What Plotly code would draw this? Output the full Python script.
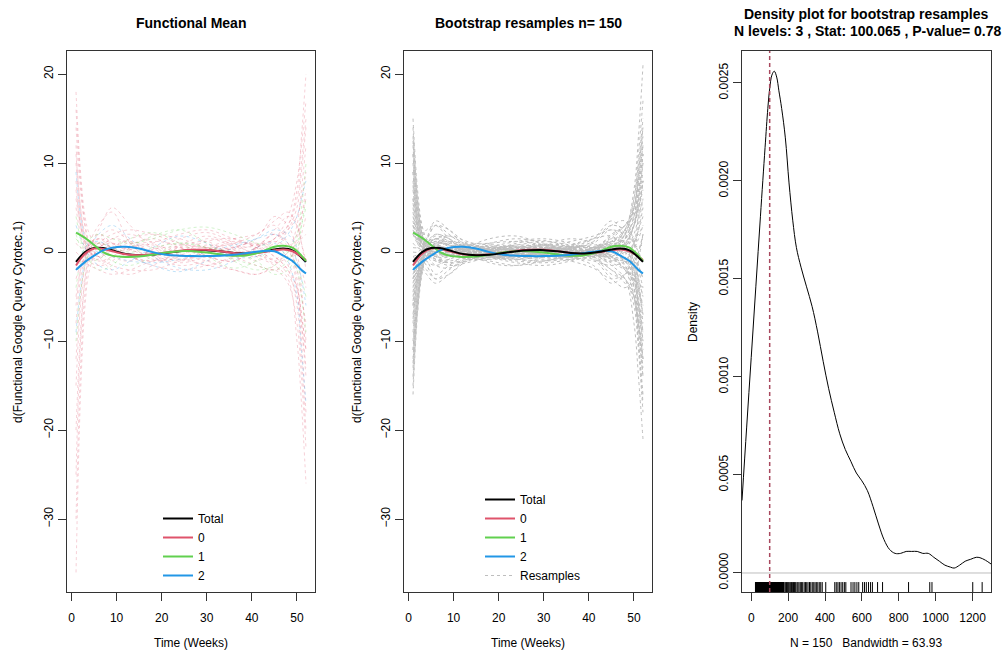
import plotly.graph_objects as go

# ---------------- data ----------------
# knot weeks used for the (sparse) functional curves
KNOT_WEEKS = [1, 2, 3, 4, 6, 9, 13, 18, 24, 30, 36, 41, 45, 48, 50, 51, 52]

# observed curves (panel 1), with their group
OBS_GROUPS = ["0", "0", "0", "0", "0", "0", "0", "0", "1", "2", "0", "0",
              "1", "2", "0", "0", "0", "0", "0", "0", "1", "2", "0", "0",
              "0", "0", "1", "0", "2", "0", "0", "1"]
OBS_CURVES = [
    [18, 9, 4, 2, 0.5, 0.8, 1.2, 0.5, -0.3, 0.8, 0.2, -0.5, 1.5, 3, 6, 10, 15],
    [-36, -16, -6, -2, 0.5, 1, 0.3, -0.5, 0.6, 1.2, -0.4, 0.5, 2, 0.5, -4, -10, -18],
    [-25, -10, -3, 0, 2, 1, -0.5, -1, 0.5, 0.3, 1, 0.8, -0.5, -2, -6, -12, -20],
    [-15, -6, -1.5, 1, 3, 4.5, 1, -0.8, -0.5, 1.5, 0.5, -1, 0.5, 2.5, 5, 9, 14],
    [12, 5, 1.5, 0, -1, -0.5, 0.8, 1.5, 0.5, -0.5, -1, 0.5, 2, 1, -3, -8, -14],
    [8, 3, 0.5, -1, -1.5, -0.5, 0.5, 0.8, -0.2, -1.5, -0.6, 0.3, 1, 3, 7, 13, 20],
    [-8, -3, -0.5, 1, 1.5, 0.5, -0.6, 0.2, 1.5, 2.2, 1, -0.5, -1.5, -3, -10, -17, -26],
    [5, 2, 0.5, 0, 0.5, 1.5, 2, 1, -0.5, 0.5, 1.5, 2, 3, 1, -1, -2, -4],
    [-4, -1, 0.5, 1, 0.2, -1, -1.5, -0.5, 1, 0.5, -0.8, -1.5, -2, -1, 1, 3, 5],
    [3, 1.5, 0.5, -0.5, -1.5, -2, -1, 0.5, 1.8, 1, -0.5, -0.5, 0.5, 2, 4, 6, 8],
    [14, 7, 3, 1, -0.5, 0.2, 1, -0.3, -1.2, -0.5, 0.5, 1.5, 4, 3, 0, -4, -10],
    [-20, -9, -3, -0.5, 1.5, 2.5, 1.2, 0, -1, 0, 1.2, 0.5, -1, 0, 3, 7, 12],
    [2, 0.5, -0.5, -1, -0.8, 0.3, 1.5, 2.2, 1, -0.5, -1.8, -1, 0.5, -0.5, -2, -5, -9],
    [-2, -0.5, 0.5, 1, 1.2, 0.5, -0.5, -1.5, -2.2, -1, 0.5, 1.5, 2.5, 2, 0.5, -0.5, -1.5],
    [10, 4, 1, -0.5, -0.8, 0.5, 0.2, -0.2, 0.8, 1.8, 0.8, -0.3, -1, -2.5, -5, -8, -13],
    [-12, -5, -1, 0.8, 1, -0.5, -1, 0.3, 0.5, -0.5, -1, 0.5, 1.5, 4, 8, 12, 17],
    [6, 3, 1.2, 0.8, 2.5, 5, 3, 0.5, -0.8, -0.2, 0.6, 1, 0.5, -1.5, -4, -7, -11],
    [-6, -2, 0, 0.5, -0.5, -2, -2.5, -1.5, 0, 1.2, 1.5, 0.5, -0.8, 0.5, 2, 4, 6],
    [1, 0.5, 0.5, 0.8, 1.5, 1, 0.3, 1, 2, 2.5, 1.5, 0.8, 2.5, 4, 3, 1, -2],
    [-30, -13, -4.5, -1, 1, 0.5, -0.5, -1, -0.8, -1.5, -2, -2.5, -2, -3.5, -8, -14, -22],
    [4, 1.5, 0, -1, -2, -1.5, 0.5, 1.8, 2.5, 1, -1, -2, -1.5, 0, 2, 5, 10],
    [-9, -4, -1, 0.5, 2, 3, 1.5, -0.5, -1.8, -2, -1, 0.5, 1, -1, -5, -11, -17],
    [16, 8, 3, 0.5, -1.5, -1, 0.5, 1.2, 0.8, 0.5, 0.3, 0.8, 1.2, 0.5, -2, -5, -8],
    [0, -0.5, -1, -0.8, 0.3, 1.5, 1, -0.5, -1.5, -1, 0, -0.2, -1.2, -0.5, 1.5, 4, 7],
    [7, 3, 1, 0, -0.5, 0.5, 1.5, 2, 1.5, 0.5, -0.5, -1.5, -2, -1.5, 0, 2, 4],
    [-5, -2, -0.5, 0.5, 1, 0.5, -0.5, -1.5, -2, -1.5, -0.5, 0.5, 1.5, 2.5, 4, 6, 9],
    [1.5, 1, 1, 1.5, 2, 1.5, 1, 1.5, 2.5, 2.8, 2, 1, 0.5, 0, -1.5, -3, -5],
    [-1, -1, -1.2, -1.5, -2, -2.5, -2, -1, -0.5, -1, -2, -2.5, -1.5, 0, 1, 1.5, 2],
    [9, 4, 1.5, 0.5, 0, -0.5, -1, -1.2, -0.8, 0, 0.8, 1.5, 2, 1, -1, -3, -6],
    [-3, -1.5, -0.5, 0, 1, 2, 2.5, 2, 1, 0.5, 1, 2, 3.5, 4.5, 3, 1, -1],
    [11, 5, 2, 0.5, -0.5, -1.5, -2, -2, -1, 0, 0.5, 0.5, -0.5, -2, -4, -7, -11],
    [-10, -4.5, -1.5, 0, 1, 0.5, 0, 0.5, 1, 0.5, 0, -1, -2.5, -2, 0, 3, 6],
]

# bootstrap resample curves (panel 2)
RESAMPLE_CURVES = [
    [15, 7, 3, 1.5, 0.5, 0, 0.5, 0.2, -0.3, 0.5, 0.2, -0.5, 0.5, 2, 6, 11, 17],
    [-16, -7, -2.5, -0.5, 1, 0.8, -0.3, -0.5, 0.3, 0.5, -0.2, 0.3, 1.5, 1, -4, -10, -17],
    [10, 4, 1.5, 0.5, -0.5, -0.5, 0.3, 0.6, 0.1, -0.3, -0.5, 0.2, 1, 2.5, 7, 13, 21],
    [-12, -5, -1.5, 0.5, 1.5, 1, 0, -0.3, 0, 0.3, 0, -0.3, -1.5, -3, -8, -14, -21],
    [8, 3.5, 1, 0, -1, -0.8, 0, 0.8, 0.5, 0, -0.6, 0, 1.2, 0.5, -1.5, -4, -7],
    [-8, -3, -0.5, 0.8, 1.8, 1.2, 0, -0.6, -0.2, 0.4, 0.6, 0.3, -0.5, 1.5, 4, 7, 11],
    [5, 2, 0.5, 0, 0.5, 1, 0.5, -0.2, -0.5, 0, 0.5, 1, 2.5, 1, -2, -5, -9],
    [-5, -2, 0, 1, 1, 0, -0.8, -0.6, 0.2, 0.6, 0.2, -0.6, -1, 0.5, 3, 5, 8],
    [12, 5, 2, 0.8, -0.3, -0.2, 0.4, 0.3, -0.4, -0.6, -0.2, 0.4, 0.8, -0.5, -3, -7, -12],
    [-14, -6, -2, 0, 1.2, 0.6, -0.2, 0.2, 0.6, 0.2, -0.4, -0.2, 0.6, 2.5, 6, 10, 15],
    [3, 1.5, 0.5, 0.2, 0, -0.5, -0.3, 0.3, 0.8, 0.5, -0.2, -0.5, -0.5, 0, 1, 2.5, 4],
    [-3, -1, 0.3, 0.6, 0.5, 0.2, 0, -0.3, -0.5, 0, 0.5, 0.6, 0.2, -1, -2.5, -4, -6],
    [6, 3, 1.5, 1.5, 3, 2, 0.5, -0.5, -0.8, -0.2, 0.3, 0.5, 0.2, -0.8, -1, 0, 2],
    [-6, -2.5, -1, -1, -2.5, -1.5, -0.2, 0.5, 0.6, 0.3, -0.2, 0, -0.2, 1, 3, 6, 10],
    [9, 4, 1.5, 0.3, -0.8, -0.5, 0.2, 0.4, 0.2, 0.2, 0.5, 1.2, 3, 3.5, 1, -3, -8],
    [-10, -4, -1, 0.5, 1.5, 0.8, 0, -0.2, -0.3, -0.2, 0, -0.8, -3, -4, -3, -1, 2],
    [2, 1, 0.6, 0.3, 0, 0, 0.4, 1, 1.5, 1, 0, -0.3, 0, 0.8, 1.5, 2, 3],
    [-2, -0.8, 0, 0.3, 0.2, -0.3, -0.6, -1, -1.5, -1, -0.5, 0, 0.5, 0.2, -0.5, -1.5, -3],
    [7, 3, 1, 0.3, 0, 0.5, 0.8, 0.2, -0.6, -0.3, 0.4, 0.8, 0.5, -1.5, -5, -10, -16],
    [-7, -3, -0.5, 0.5, 0.8, 0.2, -0.5, -0.2, 0.5, 0.8, 0.3, -0.2, 0, 2, 5, 9, 14],
    [4, 2, 1, 1, 2, 1.5, 0.5, 0, -0.3, -0.6, -0.8, -0.4, 0.6, 0.8, 0, -1.5, -3],
    [-4, -1.5, -0.3, -0.5, -1.5, -1.8, -0.8, 0, 0.5, 0.7, 0.6, 0.5, 0.5, 0, 0.5, 1.5, 3],
    [11, 5, 2, 0.5, -0.5, -0.3, 0.2, 0.3, 0.2, 0.4, 0.3, 0, -0.5, -2, -5, -9, -14],
    [-11, -5, -1.5, 0.2, 0.8, 0.3, 0, 0.2, 0.3, -0.2, -0.5, -0.2, 0.5, 2, 5, 8, 12],
    [1, 0.5, 0.3, 0.5, 1, 0.8, 0.2, -0.5, -0.8, -0.5, 0, 0.5, 1.8, 3, 5, 8, 12],
    [-1, -0.5, -0.3, -0.2, 0, 0.5, 0.8, 0.5, 0, 0, 0.2, -0.5, -2, -3, -5, -8, -12],
    [13, 6, 2.5, 1, 0.3, 0.3, 0.2, -0.2, -0.4, 0, 0.3, 0.3, 0.8, 1.5, 3, 5, 8],
    [-13, -6, -2, -0.5, 0.5, 0.5, 0.3, 0, -0.2, 0.2, 0.4, 0, -0.8, -1, -1.5, -3, -5],
    [0, 0, 0.5, 1.5, 3.5, 2.5, 0.5, -0.5, -0.5, 0, 0.5, 0.2, 0.5, 0.5, -0.5, -2, -4],
    [-0.5, -1, -1.5, -2, -3, -2, -0.5, 0.3, 0.5, 0.3, 0, -0.2, -1, -0.3, 1, 2.5, 5],
    [6, 2.5, 0.5, -0.3, -0.5, 0.2, 0.6, 0.6, 0.4, 0.3, 0.6, 1.5, 3.5, 2, -1, -4, -7],
    [-6, -2.5, -0.5, 0.3, 0.5, -0.2, -0.6, -0.5, -0.2, -0.3, -0.6, -1.5, -3.5, -2.5, 0, 3, 6],
    [3.5, 1.5, 0.5, 0, -0.3, 0, 0.3, 0.1, 0, 0.2, 0.1, 0, 0.3, 1, 3, 6, 10],
    [-3.5, -1.5, -0.5, 0.2, 0.6, 0.4, 0, 0, 0.2, 0.3, 0, -0.3, -0.6, -1.5, -4, -8, -13],
    [2.5, 1.2, 0.6, 0.5, 0.8, 0.3, -0.2, 0, 0.6, 0.9, 0.6, 0, -0.3, 0.3, 2, 4, 6],
    [-2.5, -1, -0.2, 0.2, 0, -0.4, -0.2, 0.4, 0.2, -0.4, -0.6, -0.2, 0.5, 0.5, -1, -3, -5],
    [9, 3, 0, -1, -1.5, -0.8, 0.5, 1.5, 1.8, 0.8, -0.5, -1, -1.5, -1, 1, 4, 8],
    [-9, -3.5, -0.5, 1, 2, 1.5, 0, -1.2, -1.5, -0.5, 0.8, 1.5, 1.8, 0.5, -2, -6, -11],
    [4.5, 2, 1, 1.5, 3, 2.5, 1, 0.5, 0.8, 1.2, 0.8, 0.5, 1.5, 3, 4, 6, 9],
    [-4.5, -2, -1, -1.5, -3, -2.5, -1, -0.5, -0.8, -1, -0.8, -0.8, -2, -3.5, -5, -8, -12],
    [14, 6, 2, 0.5, 0, 0.5, 1, 0.8, 0.2, -0.3, -0.5, 0.2, 2, 3, 5, 9, 14],
    [-15, -6.5, -2, 0, 0.5, 0, -0.8, -0.8, -0.2, 0.3, 0.2, -0.5, -2.5, -3, -6, -11, -18],
    [7.5, 3, 1, 0.5, 1, 1.8, 1.2, 0.2, -0.8, -1, -0.3, 0.5, 1, 0, -2.5, -6, -10],
    [-7.5, -3, -0.8, 0, -0.5, -1.2, -1, 0, 1, 1.3, 0.5, -0.3, -0.5, 0.8, 3, 6.5, 11],
    [11, 4.5, 1.2, 0, -0.8, -1, -0.5, 0.5, 1.2, 1.5, 1, 0.3, 0, 1.5, 4, 8, 13],
    [-11, -4.5, -1.2, 0.5, 1.5, 1.8, 0.8, -0.5, -1.2, -1.5, -1, -0.3, 0.2, -1, -4, -8, -14],
    [2, 1.5, 1.8, 2.5, 3, 1.5, 0, -0.5, -0.3, 0.5, 1.2, 1.8, 2.5, 2, 1, 0, -1],
    [-2, -1.5, -1.8, -2.5, -3.5, -2.5, -0.8, 0.2, 0.3, -0.3, -1, -1.8, -3, -2.5, -1.5, 0, 2],
    [5.5, 2.5, 1, 0.8, 1.2, 0.8, 0.2, -0.5, -1, -1.2, -0.8, 0, 0.8, 1.5, 3, 5, 8],
    [-5.5, -2.5, -1, -0.5, 0, 0.5, 0.8, 1, 1.2, 0.8, 0.3, 0, -0.5, -1, -3, -5.5, -9],
    [0.5, 0.5, 0.8, 1.2, 1.5, 0.8, 0, -0.5, 0, 0.8, 1.5, 1, -0.5, -2, -3, -3.5, -4],
    [-0.5, -0.3, -0.2, 0, 0.3, 0.2, -0.3, -0.8, -0.5, 0.2, 0.8, 1.5, 3, 2.5, 1, 0.5, 1],
    [12.5, 5.5, 2, 0.5, -0.8, -1.2, -0.8, -0.3, 0.2, 0.5, 0.3, -0.3, -1.2, -2, -3, -4.5, -6],
    [-12.5, -5.5, -2, -0.5, 0.8, 1.2, 0.8, 0.3, -0.2, -0.5, -0.3, 0.3, 1.2, 2, 3.5, 5, 7],
    [3, 1, 0, -0.5, -1, -1.5, -1.2, -0.5, 0.3, 0.8, 0.6, 0, -0.8, -1.8, -3.5, -6, -10],
    [-3, -1, 0, 0.8, 1.5, 1.2, 0.5, 0, -0.5, -0.8, -0.5, 0.3, 1.2, 2.5, 4.5, 7, 11],
]

# functional means
MEAN_WEEKS = [1, 3, 5, 7, 9, 12, 15, 18, 21, 24, 27, 30, 33, 36, 39, 42, 45, 47, 49, 51, 52]
MEAN_TOTAL = [-1.1, 0.0, 0.45, 0.45, 0.2, -0.2, -0.35, -0.3, -0.1, 0.1, 0.2, 0.22, 0.1, -0.1, -0.15, 0.0, 0.3, 0.4, 0.2, -0.6, -1.1]
MEAN_G0 = [-1.5, -0.2, 0.4, 0.35, 0.1, -0.25, -0.35, -0.25, -0.05, 0.15, 0.25, 0.25, 0.1, -0.1, -0.2, -0.05, 0.2, 0.3, 0.1, -0.5, -0.9]
MEAN_G1 = [2.2, 1.6, 0.8, 0.0, -0.4, -0.55, -0.5, -0.3, -0.05, 0.1, 0.1, -0.05, -0.25, -0.4, -0.35, 0.0, 0.6, 0.7, 0.5, -0.4, -1.0]
MEAN_G2 = [-2.0, -1.1, -0.4, 0.2, 0.5, 0.6, 0.4, 0.0, -0.3, -0.4, -0.45, -0.45, -0.4, -0.3, -0.1, 0.1, 0.1, -0.4, -1.0, -2.0, -2.4]

# density of bootstrap statistics
DENS_X = [-50, -25, 0, 25, 50, 75, 90, 100, 112, 125, 138, 150, 165, 185, 205, 225, 245, 270,
          300, 330, 360, 390, 420, 450, 480, 510, 540, 570, 600, 630, 660, 690, 720, 750, 780,
          810, 840, 870, 900, 930, 960, 990, 1020, 1050, 1080, 1100, 1130, 1160, 1190, 1220,
          1240, 1270, 1300]
DENS_Y = [0.00037, 0.00074, 0.00110, 0.00146, 0.00182, 0.00217, 0.00237, 0.00247, 0.00254,
          0.00256, 0.00253, 0.00246, 0.00237, 0.00222, 0.00199, 0.00180, 0.00166, 0.00156,
          0.00146, 0.00136, 0.00123, 0.00108, 0.00094, 0.00082, 0.00071, 0.00063, 0.00057,
          0.00051, 0.00047, 0.00042, 0.00034, 0.00025, 0.00017, 0.00012, 0.00010, 0.00010,
          0.00011, 0.00011, 0.00011, 0.00010, 0.00010, 0.00008, 0.00006, 0.00004, 0.00003,
          0.000025, 0.00004, 0.00006, 0.00007, 0.00008, 0.000078, 0.000065, 0.000046]

# bootstrap statistics (rug)
RUG_VALUES = [
    23, 25, 26, 28, 30, 31, 33, 35, 36, 38, 40, 41, 43, 45, 46, 48, 50, 52, 53, 55,
    57, 58, 60, 62, 63, 65, 67, 69, 70, 72, 74, 76, 77, 79, 81, 82, 84, 86, 88, 89,
    91, 93, 95, 96, 98, 100, 101, 103, 105, 107, 108, 110, 112, 114, 115, 117, 119, 121,
    122, 124, 126, 128, 129, 131, 133, 134, 136, 138, 140, 141, 143, 145, 147, 148, 150,
    152, 154, 155, 157, 159, 161, 162, 164, 166, 168, 169, 171, 173, 175, 176, 178,
    185, 191, 196, 201, 206, 212, 218, 223, 229, 235, 241, 248, 253, 259, 266, 272,
    279, 287, 294, 301, 308, 316, 323, 331, 339, 346, 353, 361, 369, 377, 385, 404,
    453, 461, 470, 478, 487, 496, 505, 513, 541, 552, 562, 573, 583, 604, 614, 624, 636,
    647, 657, 685, 712, 853, 968, 980, 1201, 1252]

STAT = 100.065

# ---------------- style ----------------
FONT = "Liberation Sans, Arial, Helvetica, sans-serif"
AX_COL = "#333333"
GROUP_COLORS = {"0": "#DF536B", "1": "#61D04F", "2": "#2297E6"}
OBS_FADED = {"0": "rgba(223,83,107,0.28)", "1": "rgba(97,208,79,0.28)", "2": "rgba(34,151,230,0.28)"}
RESAMPLE_COLOR = "#BEBEBE"

W, H = 1008, 654


def px_x(a, b):
    return [a / W, b / W]


def px_y(top, bottom):
    return [1 - bottom / H, 1 - top / H]


fig = go.Figure()

# panel 1: observations
for grp, vals in zip(OBS_GROUPS, OBS_CURVES):
    fig.add_trace(go.Scatter(
        x=KNOT_WEEKS, y=vals, mode="lines", line_shape="spline",
        line=dict(color=OBS_FADED[grp], width=1, dash="3px,3px"),
        showlegend=False, hoverinfo="skip", xaxis="x", yaxis="y"))

mean_sets = [("Total", MEAN_TOTAL, "black", 1), ("0", MEAN_G0, GROUP_COLORS["0"], 2),
             ("1", MEAN_G1, GROUP_COLORS["1"], 3), ("2", MEAN_G2, GROUP_COLORS["2"], 4)]
for name, vals, col, rank in mean_sets:
    fig.add_trace(go.Scatter(
        x=MEAN_WEEKS, y=vals, mode="lines", line_shape="spline", name=name,
        line=dict(color=col, width=2), legend="legend", legendrank=rank,
        xaxis="x", yaxis="y"))

# panel 2: resamples
for i, vals in enumerate(RESAMPLE_CURVES):
    fig.add_trace(go.Scatter(
        x=KNOT_WEEKS, y=vals, mode="lines", line_shape="spline", name="Resamples",
        line=dict(color=RESAMPLE_COLOR, width=1, dash="3px,3px"),
        showlegend=(i == 0), legend="legend2", legendrank=5,
        hoverinfo="skip", xaxis="x2", yaxis="y2"))

for name, vals, col, rank in [mean_sets[1], mean_sets[2], mean_sets[3], mean_sets[0]]:
    fig.add_trace(go.Scatter(
        x=MEAN_WEEKS, y=vals, mode="lines", line_shape="spline", name=name,
        line=dict(color=col, width=2), legend="legend2", legendrank=rank,
        xaxis="x2", yaxis="y2"))

# panel 3: density
Y3_RANGE = [-0.000097, 0.002663]
fig.add_trace(go.Scatter(
    x=DENS_X, y=DENS_Y, mode="lines", line_shape="spline",
    line=dict(color="black", width=1), showlegend=False, xaxis="x3", yaxis="y3"))
rug_y = Y3_RANGE[0] + 0.008 * (Y3_RANGE[1] - Y3_RANGE[0])
fig.add_trace(go.Scatter(
    x=RUG_VALUES, y=[rug_y] * len(RUG_VALUES), mode="markers",
    marker=dict(symbol="line-ns", size=8, line=dict(color="black", width=1)),
    showlegend=False, xaxis="x3", yaxis="y3"))

# zero line and statistic line
fig.add_shape(type="line", xref="x3 domain", yref="y3", x0=0, x1=1, y0=0, y1=0,
              line=dict(color="#BEBEBE", width=1))
fig.add_shape(type="line", xref="x3", yref="y3 domain", x0=STAT, x1=STAT, y0=0, y1=1,
              line=dict(color="#A8485E", width=1.5, dash="4px,3px"))

common_axis = dict(showgrid=False, zeroline=False, showline=True, mirror=True,
                   linecolor=AX_COL, linewidth=1, ticks="outside", ticklen=8,
                   tickcolor=AX_COL, tickfont=dict(family=FONT, size=12, color="black"))

ydom = px_y(51, 592)
fig.update_layout(
    width=W, height=H, margin=dict(l=0, r=0, t=0, b=0),
    paper_bgcolor="white", plot_bgcolor="white",
    font=dict(family=FONT, size=12, color="black"),
    xaxis=dict(domain=px_x(67, 315), range=[-1.0, 54.0], tickvals=[0, 10, 20, 30, 40, 50],
               anchor="y", ticklabelstandoff=7, **common_axis),
    yaxis=dict(domain=ydom, range=[-38.2, 22.6], tickvals=[-30, -20, -10, 0, 10, 20],
               tickangle=-90, anchor="x", **common_axis),
    xaxis2=dict(domain=px_x(404, 652), range=[-1.0, 54.0], tickvals=[0, 10, 20, 30, 40, 50],
                anchor="y2", ticklabelstandoff=7, **common_axis),
    yaxis2=dict(domain=ydom, range=[-38.2, 22.6], tickvals=[-30, -20, -10, 0, 10, 20],
                tickangle=-90, anchor="x2", **common_axis),
    xaxis3=dict(domain=px_x(742, 991), range=[-50, 1300],
                tickvals=[0, 200, 400, 600, 800, 1000, 1200], anchor="y3",
                ticklabelstandoff=7, **common_axis),
    yaxis3=dict(domain=ydom, range=Y3_RANGE,
                tickvals=[0, 0.0005, 0.0010, 0.0015, 0.0020, 0.0025], tickformat=".4f",
                tickangle=-90, anchor="x3", **common_axis),
    legend=dict(x=158 / W, y=1 - 590 / H, xanchor="left", yanchor="bottom",
                bgcolor="rgba(0,0,0,0)", font=dict(family=FONT, size=12)),
    legend2=dict(x=480 / W, y=1 - 590 / H, xanchor="left", yanchor="bottom",
                 bgcolor="rgba(0,0,0,0)", font=dict(family=FONT, size=12)),
)

title_font = dict(family=FONT, size=14, color="black")
label_font = dict(family=FONT, size=12, color="black")
ann = [
    dict(text="<b>Functional Mean</b>", x=191 / W, y=1 - 23 / H, font=title_font),
    dict(text="<b>Bootstrap resamples n= 150</b>", x=528 / W, y=1 - 23 / H, font=title_font),
    dict(text="<b>Density plot for bootstrap resamples</b>", x=866 / W, y=1 - 14 / H, font=title_font),
    dict(text="<b>N levels: 3 , Stat: 100.065 , P-value= 0.78</b>", x=868 / W, y=1 - 31 / H, font=title_font),
    dict(text="Time (Weeks)", x=191 / W, y=1 - 643 / H, font=label_font),
    dict(text="Time (Weeks)", x=528 / W, y=1 - 643 / H, font=label_font),
    dict(text="N = 150   Bandwidth = 63.93", x=866 / W, y=1 - 643 / H, font=label_font),
    dict(text="d(Functional Google Query Cytotec.1)", x=18 / W, y=1 - 322 / H, font=label_font, textangle=-90),
    dict(text="d(Functional Google Query Cytotec.1)", x=357 / W, y=1 - 322 / H, font=label_font, textangle=-90),
    dict(text="Density", x=693 / W, y=1 - 322 / H, font=label_font, textangle=-90),
]
for a in ann:
    fig.add_annotation(xref="paper", yref="paper", showarrow=False,
                       xanchor="center", yanchor="middle", **a)

fig.write_html("out.html")
